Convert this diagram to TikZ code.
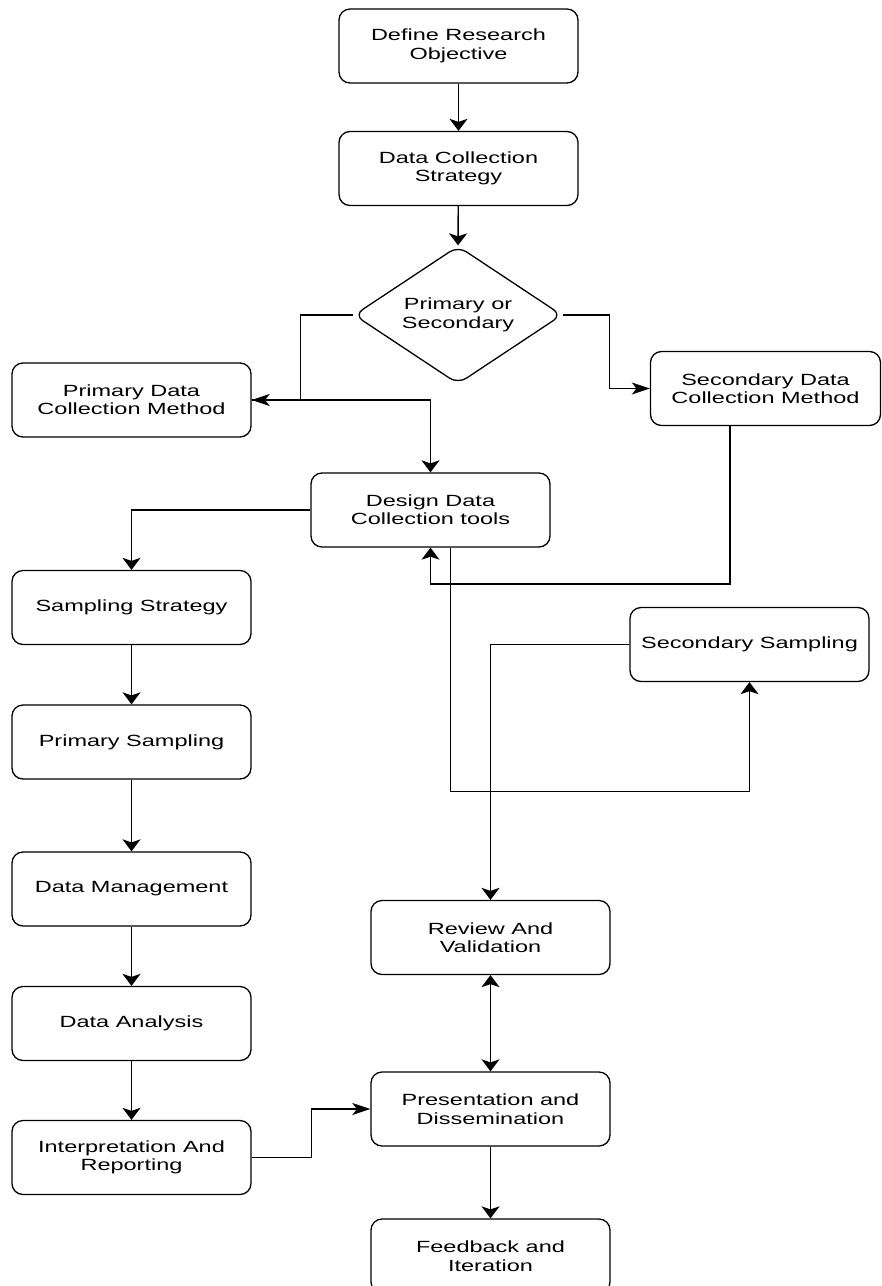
\documentclass[tikz,border=0pt]{standalone}
\usepackage{fontspec}
\setmainfont[FakeStretch=1.45]{Liberation Sans}
\usetikzlibrary{shapes.geometric,arrows.meta,calc}
\begin{document}
\begin{tikzpicture}[x=1pt,y=-1pt,
  box/.style={draw, fill=white, rounded corners=11pt, line width=1.3pt,
    minimum width=239pt, minimum height=74pt, align=center, inner sep=0pt,
    font=\fontsize{16.2}{18.4}\selectfont},
  decision/.style={diamond, draw, fill=white, rounded corners=10pt, line width=1.3pt,
    minimum width=208pt, minimum height=138pt, aspect=1.5, inner sep=0pt,
    align=center, font=\fontsize{16.2}{18.4}\selectfont},
  link/.style={line width=1.4pt},
  vtip/.tip={Stealth[length=12pt,width=18pt,inset=3pt]},
  htip/.tip={Stealth[length=18pt,width=12pt,inset=4.5pt]},
  varr/.style={link, -vtip},
  harr/.style={link, -htip},
  dvarr/.style={link, vtip-vtip}
]
\useasboundingbox (0,0) rectangle (882,1286);
\clip (0,0) rectangle (882,1286);

% nodes
\node[box] (def)  at (458.5,46)    {Define Research\\Objective};
\node[box] (dcs)  at (458.5,168.5) {Data Collection\\Strategy};
\node[decision] (dia) at (458,315) {Primary or\\Secondary};
\node[box] (pdcm) at (131.5,400)   {Primary Data\\Collection Method};
\node[box, minimum width=230pt] (sdcm) at (765.5,388.5) {Secondary Data\\Collection Method};
\node[box] (ddct) at (430.5,510)   {Design Data\\Collection tools};
\node[box] (ss)   at (131.5,607.5) {Sampling Strategy};
\node[box] (secs) at (749.5,644.5) {Secondary Sampling};
\node[box] (ps)   at (131.5,742)   {Primary Sampling};
\node[box] (dm)   at (131.5,889)   {Data Management};
\node[box] (rv)   at (490.5,937.5) {Review And\\Validation};
\node[box] (da)   at (131.5,1023.5){Data Analysis};
\node[box] (pd)   at (490.5,1109)  {Presentation and\\Dissemination};
\node[box] (ir)   at (131.5,1157.5){Interpretation And\\Reporting};
\node[box] (fb)   at (490.5,1256)  {Feedback and\\Iteration};

% connectors
\draw[varr] (def) -- (dcs);
\draw[varr] (dcs) -- (dia.north);
\draw[harr] (dia.west) -- ++(-53,0) |- (pdcm.east);
\draw[varr] (pdcm.east) -| (ddct.north);
\draw[harr] (dia.east) -- ++(47,0) |- (sdcm.west);
\draw[varr] ([xshift=-35.5pt]sdcm.south) -- ++(0,158) -| (ddct.south);
\draw[varr] (ddct.west) -| (ss.north);
\draw[varr] ([xshift=20pt]ddct.south) -- ++(0,244) -| (secs.south);
\draw[varr] (secs.west) -| (rv.north);
\draw[varr] (ss) -- (ps);
\draw[varr] (ps) -- (dm);
\draw[varr] (dm) -- (da);
\draw[varr] (da) -- (ir);
\draw[harr] (ir.east) -- ++(60,0) |- (pd.west);
\draw[dvarr] (rv) -- (pd);
\draw[varr] (pd) -- (fb);
\end{tikzpicture}
\end{document}
